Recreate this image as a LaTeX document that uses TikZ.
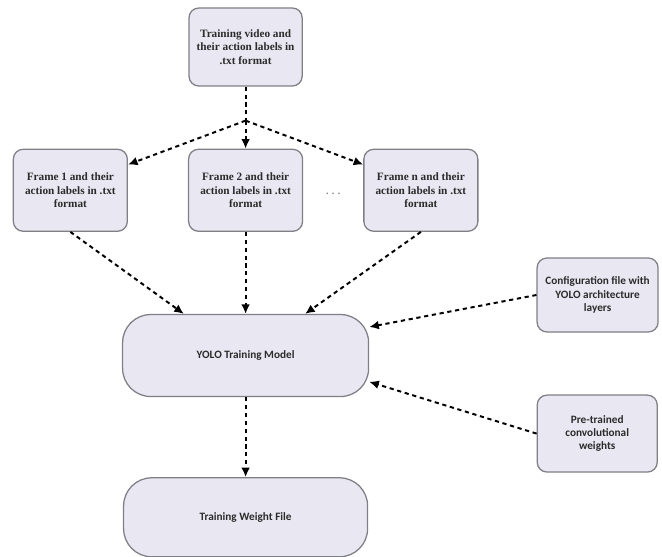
\documentclass[tikz,border=0pt]{standalone}
\usepackage{fontspec}
\setmainfont{Liberation Serif}
\newfontfamily\calibfont{Carlito}
\usepackage{xcolor}
\usepackage{tikz}
\usetikzlibrary{arrows.meta,positioning,calc}
\definecolor{ydFill}{HTML}{E9E7F1}
\definecolor{ydLine}{HTML}{7F7F86}
\definecolor{ydText}{HTML}{2B2B2B}

\begin{document}
\begin{tikzpicture}[
  fbox/.style={draw=ydLine,fill=ydFill,line width=0.9pt,rounded corners=7pt,
    align=center,font=\footnotesize\bfseries,text=ydText,
    minimum width=2.85cm,minimum height=2.05cm,inner sep=2pt},
  sbox/.style={draw=ydLine,fill=ydFill,line width=0.9pt,rounded corners=7pt,
    align=center,font=\calibfont\footnotesize\bfseries,text=ydText,
    minimum width=3.0cm,minimum height=1.9cm,inner sep=1pt},
  bigbox/.style={draw=ydLine,fill=ydFill,line width=0.9pt,rounded corners=20pt,
    align=center,font=\calibfont\footnotesize\bfseries,text=ydText,
    minimum width=6.15cm,minimum height=2.05cm},
  ar/.style={-{Latex[length=2.4mm,width=2.2mm]},line width=1.4pt,
    dash pattern=on 3pt off 2.6pt},
  ln/.style={line width=1.4pt,dash pattern=on 3pt off 2.6pt}
]
\useasboundingbox (0,0) rectangle (16.55,-13.925);
\node[fbox,minimum width=2.83cm,minimum height=1.95cm] (top) at (6.14,-1.175)
  {Training video and\\their action labels in\\.txt format};
\node[fbox,below=1.55cm of top] (f2) {Frame 2 and their\\action labels in .txt\\format};
\node[fbox,left=1.5cm of f2] (f1) {Frame 1 and their\\action labels in .txt\\format};
\node[fbox,right=1.5cm of f2] (fn) {Frame n and their\\action labels in .txt\\format};
\node[text=gray,font=\normalsize] (dots) at ($(f2)!0.5!(fn)+(0,-0.1)$) {.\,.\,.};
\node[bigbox,below=2.05cm of f2] (yolo) {YOLO Training Model};
\node[bigbox,below=2.0cm of yolo,minimum width=6.1cm,minimum height=1.975cm] (twf) {Training Weight File};
\node[sbox,minimum width=3.025cm,minimum height=1.85cm] (cfg) at (14.94,-7.375)
  {Configuration file with\\YOLO architecture\\layers};
\node[sbox,minimum height=1.925cm] (pre) at (14.93,-10.84)
  {Pre-trained\\convolutional\\weights};
% split of the training video
\coordinate (split) at ($(top.south)+(0,-0.85)$);
\draw[ln] (top) -- (split);
\foreach \t in {f1.24,f2.north,fn.156} \draw[ar] (split) -- (\t);
% frames into the model
\draw[ar] (f1.south) -- (yolo.146);
\draw[ar] (f2) -- (yolo);
\draw[ar] (fn.south) -- (yolo.35);
\draw[ar] (cfg.west) -- (yolo.13);
\draw[ar] (pre.west) -- (yolo.-12);
\draw[ar] (yolo) -- (twf);
\end{tikzpicture}
\end{document}
